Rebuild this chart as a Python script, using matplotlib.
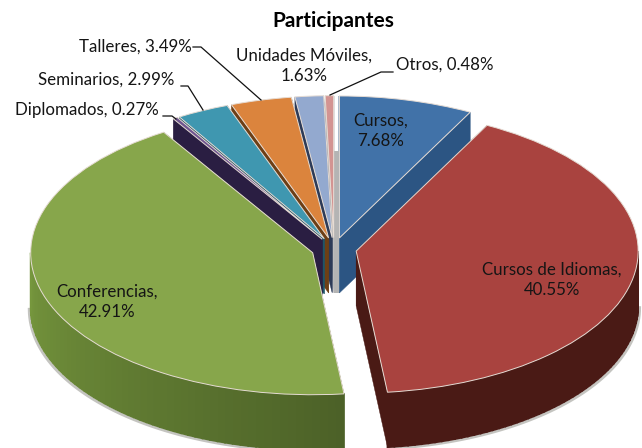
import numpy as np
import matplotlib
matplotlib.use("Agg")
import matplotlib.pyplot as plt
from matplotlib.transforms import Affine2D
from matplotlib.lines import Line2D

# ---- data ----
names = ["Cursos", "Cursos de Idiomas", "Conferencias", "Diplomados",
         "Seminarios", "Talleres", "Unidades Móviles", "Otros"]
values = [7.68, 40.55, 42.91, 0.27, 2.99, 3.49, 1.63, 0.48]
label_texts = ["Cursos,\n7.68%", "Cursos de Idiomas,\n40.55%", "Conferencias,\n42.91%",
               "Diplomados, 0.27%", "Seminarios, 2.99%", "Talleres, 3.49%",
               "Unidades Móviles,\n1.63%", "Otros, 0.48%"]
title = "Participantes"

# ---- style ----
top_colors = ["#4172a8", "#a9433f", "#87a64b", "#6f558f", "#3f97b0", "#db843d", "#93a9cf", "#d39492"]
wall_colors = ["#2c5583", "#4a1a15", "#4f6529", "#2a1e42", "#1f5568", "#6e3f15", "#2d3b58", "#b4b4b4"]
draw_order = [0, 7, 6, 5, 4, 3, 2, 1]
explode = 0.08
W, H = 642, 448
CX, CY, RX, RY, DEPTH = 334, 249, 282, 142, 55

fig = plt.figure(figsize=(W / 100, H / 100), dpi=100)
ax = fig.add_axes([0, 0, 1, 1])
plt.rcParams["font.family"] = ["Lato", "DejaVu Sans"]

wedges, _ = ax.pie(values, explode=[explode] * len(values), startangle=90, counterclock=False,
                   colors=top_colors, radius=1,
                   wedgeprops=dict(edgecolor="#e6dcd4", linewidth=0.7))
ax.set_aspect("auto")
ax.set_xlim((0 - CX) / RX, (W - CX) / RX)
ax.set_ylim((CY - H) / RY, CY / RY)
ax.axis("off")

depth = DEPTH / RY
shares = np.array(values) / sum(values) * 360
ends = np.cumsum(shares)
starts = ends - shares


def rim(th, tx, ty):
    rad = np.radians(th)
    return tx + np.sin(rad), ty + np.cos(rad)


for rank, i in enumerate(draw_order):
    th1, th2 = starts[i], ends[i]
    mid = np.radians((th1 + th2) / 2)
    tx, ty = explode * np.sin(mid), explode * np.cos(mid)
    z = 2 + 2 * rank
    wedges[i].set_zorder(z + 1)
    for th in (th1, th2):
        ox, oy = rim(th, tx, ty)
        ax.fill([tx, ox, ox, tx], [ty, oy, oy - depth, ty - depth],
                color=wall_colors[i], lw=0.3, zorder=z)
    a, b = max(th1, 90), min(th2, 270)
    if b > a:
        grid = np.linspace(a, b, 60)
        rx, ry = rim(grid, tx, ty)
        ax.plot(rx - 1.5 / RX * np.sign(180 - grid) * -1, ry - depth - 1.5 / RY,
                color="#c4c4c0", lw=2.0, zorder=1)
        for g1, g2 in zip(grid[:-1], grid[1:]):
            x1, y1 = rim(g1, tx, ty)
            x2, y2 = rim(g2, tx, ty)
            c = np.array(matplotlib.colors.to_rgb(wall_colors[i]))
            if i == 2:  # the large wall gets lighter toward the left
                c = np.clip(c * (1 + 0.5 * (g1 - 180) / 90), 0, 1)
            ax.fill([x1, x2, x2, x1], [y1, y2, y2 - depth, y1 - depth],
                    color=c, lw=1.2, zorder=z)

# the pale sliver of the "Otros" end wall, in the gap next to Cursos
th = ends[7]
mid = np.radians((starts[7] + ends[7]) / 2)
tx, ty = explode * np.sin(mid), explode * np.cos(mid)
ox, oy = rim(th, tx, ty)
ax.fill([ox, ox + 5 / RX, ox + 5 / RX, ox], [oy - depth, oy - depth, ty - depth, ty - depth],
        color=wall_colors[7], lw=0, zorder=3)
ax.set_xlim((0 - CX) / RX, (W - CX) / RX)
ax.set_ylim((CY - H) / RY, CY / RY)

px = Affine2D().scale(1, -1).translate(0, H)
label_pos = [(381, 131), (552, 280), (107, 302), (87, 110), (106, 80), (135, 47), (304, 66), (445, 65)]
for txt, pos in zip(label_texts, label_pos):
    ax.text(pos[0], pos[1], txt, transform=px, ha="center", va="center", fontsize=12.2,
            color="#151515", linespacing=1.35, zorder=40, family=["Lato", "DejaVu Sans"])
ax.text(333, 21, title, transform=px, ha="center", va="center", fontsize=15,
        fontweight="bold", color="#000000", zorder=40, family=["Lato", "DejaVu Sans"])

leaders = [([163, 172, 176], [116, 116, 119]),
           ([181, 188, 203], [86, 86, 110]),
           ([193, 201, 261], [47, 47, 100]),
           ([393, 381, 330], [72, 72, 95])]
for xs, ys in leaders:
    ax.add_line(Line2D(xs, ys, transform=px, color="#111111", lw=0.9, zorder=39))

fig.savefig("out.png", dpi=100)
